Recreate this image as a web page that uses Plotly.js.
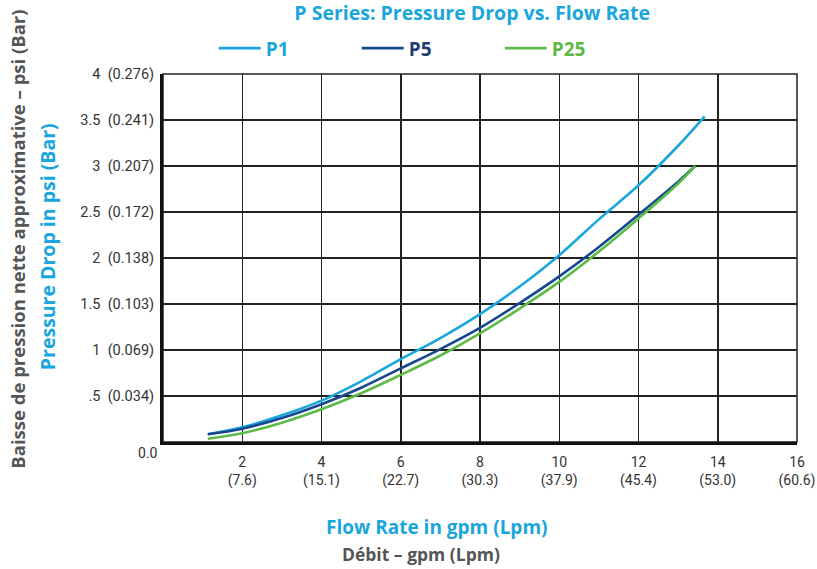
<!DOCTYPE html>
<html>
<head>
<meta charset="utf-8">
<script src="https://cdn.plot.ly/plotly-3.0.1.min.js"></script>
<style>html,body{margin:0;padding:0;background:#fff;}#chart{width:817px;height:569px;}</style>
</head>
<body>
<div id="chart"></div>
<script>
// Flow rate (gpm) and pressure drop (psi)
const p1Flow = [1.13, 2, 3, 4, 5, 6, 7, 8, 9, 10, 11, 12, 13, 13.67];
const p1Drop = [0.085, 0.16, 0.29, 0.45, 0.66, 0.9, 1.13, 1.39, 1.69, 2.03, 2.42, 2.79, 3.22, 3.54];

const p5Flow = [1.13, 2, 3, 4, 5, 6, 7, 8, 9, 10, 11, 12, 13, 13.43];
const p5Drop = [0.085, 0.145, 0.26, 0.41, 0.59, 0.8, 1.01, 1.24, 1.51, 1.8, 2.12, 2.47, 2.83, 3.0];

const p25Flow = [1.13, 2, 3, 4, 5, 6, 7, 8, 9, 10, 11, 12, 13, 13.43];
const p25Drop = [0.036, 0.095, 0.21, 0.356, 0.53, 0.73, 0.94, 1.18, 1.45, 1.74, 2.07, 2.43, 2.81, 3.0];

const xTickVals = [2, 4, 6, 8, 10, 12, 14, 16];
const xTickLpm = ['7.6', '15.1', '22.7', '30.3', '37.9', '45.4', '53.0', '60.6'];
const yTickVals = [0.5, 1, 1.5, 2, 2.5, 3, 3.5, 4];
const yTickPsi = ['.5', '1', '1.5', '2', '2.5', '3', '3.5', '4'];
const yTickBar = ['0.034', '0.069', '0.103', '0.138', '0.172', '0.207', '0.241', '0.276'];

const seriesNames = ['P1', 'P5', 'P25'];
const seriesColors = ['#19a6dc', '#16488f', '#5cba47'];
const legendTextColors = ['#19a6dc', '#233a76', '#5cba47'];

const FONT = 'Roboto, "Open Sans", sans-serif';
const HFONT = '"Open Sans", Roboto, sans-serif';
const flows = [p1Flow, p5Flow, p25Flow];
const drops = [p1Drop, p5Drop, p25Drop];

const traces = seriesNames.map((n, i) => ({
  type: 'scatter', mode: 'lines',
  x: flows[i], y: drops[i],
  name: '<b><span style="color:' + legendTextColors[i] + '">' + n + '</span></b>',
  line: {color: seriesColors[i], width: 2.6, shape: 'spline', smoothing: 1}
}));

const layout = {
  width: 817, height: 569,
  margin: {l: 163, r: 20, t: 74, b: 127},
  paper_bgcolor: '#fff', plot_bgcolor: '#fff',
  font: {family: FONT, color: '#333', size: 14},
  showlegend: true,
  title: {
    text: '<b>P Series: Pressure Drop vs. Flow Rate</b>',
    font: {family: HFONT, size: 19.5, color: '#19a6dc'},
    x: 0.578, xanchor: 'center', xref: 'container',
    y: 0.976, yanchor: 'middle', yref: 'container'
  },
  legend: {
    orientation: 'h', x: 0.08, xanchor: 'left', y: 1.07, yanchor: 'middle',
    font: {family: HFONT, size: 19}, itemwidth: 42, entrywidth: 86, entrywidthmode: 'pixels',
    bgcolor: 'rgba(0,0,0,0)', traceorder: 'normal'
  },
  xaxis: {
    range: [0, 16], tickvals: xTickVals,
    ticktext: xTickVals.map((v, i) => v + '<br>(' + xTickLpm[i] + ')'),
    showgrid: true, gridcolor: '#222', gridwidth: 1.5,
    zeroline: false, showline: true, linecolor: '#111', linewidth: 3,
    ticks: '', ticklabelstandoff: 5,
    tickfont: {family: FONT, size: 14, color: '#333'}
  },
  yaxis: {
    range: [0, 4], tickvals: yTickVals,
    ticktext: yTickVals.map((v, i) => yTickPsi[i] + '\u00a0\u00a0(' + yTickBar[i] + ')'),
    showgrid: true, gridcolor: '#222', gridwidth: 1.5,
    zeroline: false, showline: true, linecolor: '#111', linewidth: 3,
    ticks: '', ticklabelstandoff: 3,
    tickfont: {family: FONT, size: 14.5, color: '#333'}
  },
  shapes: [
    {type: 'rect', xref: 'paper', yref: 'paper', x0: 0, x1: 1, y0: 0, y1: 1,
     line: {color: '#222', width: 1.5}, layer: 'below'}
  ],
  annotations: [
    {text: '0.0', xref: 'paper', yref: 'paper', x: -0.005, y: 0, xanchor: 'right', yanchor: 'middle',
     yshift: -11, showarrow: false, font: {family: FONT, size: 14, color: '#333'}},
    {text: '<b>Flow Rate in gpm (Lpm)</b>', xref: 'paper', yref: 'paper', x: 0.432, y: -0.231,
     xanchor: 'center', yanchor: 'middle', showarrow: false,
     font: {family: HFONT, size: 19, color: '#19a6dc'}},
    {text: '<b>Débit – gpm (Lpm)</b>', xref: 'paper', yref: 'paper', x: 0.407, y: -0.304,
     xanchor: 'center', yanchor: 'middle', showarrow: false,
     font: {family: HFONT, size: 17.5, color: '#555'}},
    {text: '<b>Baisse de pression nette approximative – psi (Bar)</b>', xref: 'paper', yref: 'paper',
     x: -0.229, y: 0.552, xanchor: 'center', yanchor: 'middle', textangle: -90, showarrow: false,
     font: {family: HFONT, size: 18.5, color: '#555'}},
    {text: '<b>Pressure Drop in psi (Bar)</b>', xref: 'paper', yref: 'paper',
     x: -0.181, y: 0.53, xanchor: 'center', yanchor: 'middle', textangle: -90, showarrow: false,
     font: {family: HFONT, size: 19.5, color: '#19a6dc'}}
  ]
};

Plotly.newPlot('chart', traces, layout, {displayModeBar: false, staticPlot: true});
</script>
</body>
</html>
